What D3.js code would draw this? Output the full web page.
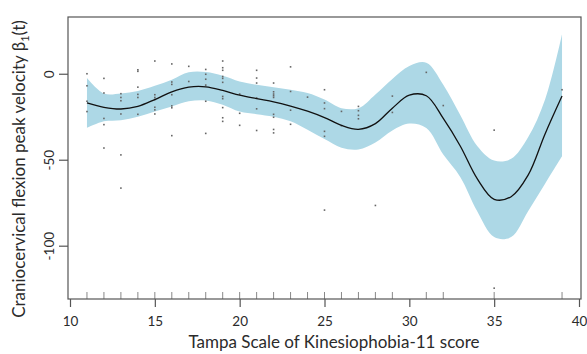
<!DOCTYPE html>
<html>
<head>
<meta charset="utf-8">
<script src="https://cdn.jsdelivr.net/npm/d3@7"></script>
<style>
  body { margin: 0; background: #fff; }
  svg { display: block; }
  text { font-family: Lato, "Open Sans", sans-serif; fill: #2b2b2b; }
</style>
</head>
<body>
<div id="chart"></div>
<script>
// fitted curve, sampled at each TSK-11 score
var fitScore = [11, 12, 13, 14, 15, 16, 17, 18, 19, 20, 21, 22, 23, 24, 25,
                26, 27, 28, 29, 30, 31, 32, 33, 34, 35, 36, 37, 38, 39];
var fitMean  = [-17, -19.5, -20.5, -19, -15, -10.5, -7.8, -7.6, -9.7, -12.5, -14.5, -16.3, -18.8, -21.8, -25.5,
                -30, -32.3, -29, -20, -12.5, -12.8, -26, -42, -61, -73, -71.5, -59, -35, -13];
var fitUpper = [-2.5, -11.5, -11.5, -10, -7, -3.5, 0.8, 1, -1.2, -4.5, -6.4, -7.8, -9.3, -11.2, -15,
                -20, -20, -12, -3, 4.5, 6.4, -6.4, -24, -42, -50.5, -49.5, -37, -15, 23];
var fitLower = [-31.5, -27.7, -27, -25, -22, -19, -16, -15.5, -18, -22, -23.5, -25, -27.7, -32.6, -38,
                -43, -44, -40, -33, -29, -31.6, -47, -60, -80, -95, -95, -80, -64, -48];

// observed values, grouped by score
var obsScore = [11, 12, 13, 14, 15, 16, 17, 18, 19, 20, 21, 22, 23, 24, 25, 26, 27, 28, 29, 31, 32, 35, 39];
var obsValue = [
  [0, -7, -16, -22],
  [-2.7, -11.2, -26, -29.6, -43.2],
  [-11.6, -13.8, -15.7, -23.4, -47.2, -66.5],
  [2.3, 1.4, -7.8, -12, -13.8, -23.6],
  [7.4, -12.2, -13.8, -15, -19.5, -21, -23.4],
  [5.7, -4.8, -6.2, -12.2, -18.7, -19.8, -36],
  [4.3, -4.5],
  [2.5, -0.3, -3.2, -6.6, -16, -34.7],
  [7.4, 3.5, 2, -1.6, -2.7, -5, -13.2, -14.5, -19.7, -25.6, -27.7],
  [-11.8, -23, -30],
  [2, -2.5, -5.4, -14.1, -20.4, -33],
  [-5.4, -10.5, -11.8, -12.8, -13.8, -23.6, -25.3, -32.4, -34.4],
  [4, -10.3, -21.2, -29.4],
  [-13.6],
  [-9.3, -17, -20.3, -33.5, -36.4, -79.3],
  [-21.9, -30.2],
  [-19, -21.5, -24.2, -26.2],
  [-76.6],
  [-13, -22.5],
  [0.8],
  [-18.5],
  [-32.8, -124.7],
  [-9.3]
];

var xTicks = [10, 15, 20, 25, 30, 35, 40];
var yTicks = [0, -50, -100];
var xTitle = "Tampa Scale of Kinesiophobia-11 score";

var width = 587, height = 354;
var box = {left: 68, top: 17, right: 581, bottom: 299};

var svg = d3.select("#chart").append("svg")
  .attr("width", width)
  .attr("height", height);

var x = d3.scaleLinear().domain([10, 40]).range([70, 579]);
var y = d3.scaleLinear().domain([-131, 33]).range([box.bottom, box.top]);

var fit = fitScore.map(function(s, i){
  return {s: s, m: fitMean[i], hi: fitUpper[i], lo: fitLower[i]};
});

var points = [];
obsScore.forEach(function(s, i){
  obsValue[i].forEach(function(v){ points.push({s: s, v: v}); });
});

// confidence band
svg.append("path")
  .datum(fit)
  .attr("fill", "#add8e6")
  .attr("d", d3.area()
    .x(function(d){ return x(d.s); })
    .y0(function(d){ return y(d.lo); })
    .y1(function(d){ return y(d.hi); })
    .curve(d3.curveCatmullRom));

// raw points
svg.append("g").selectAll("rect")
  .data(points)
  .enter()
  .append("rect")
  .attr("x", function(d){ return x(d.s) - 0.8; })
  .attr("y", function(d){ return y(d.v) - 0.8; })
  .attr("width", 1.6)
  .attr("height", 1.6)
  .attr("fill", "#666");

// mean curve
svg.append("path")
  .datum(fit)
  .attr("fill", "none")
  .attr("stroke", "#111")
  .attr("stroke-width", 1.3)
  .attr("d", d3.line()
    .x(function(d){ return x(d.s); })
    .y(function(d){ return y(d.m); })
    .curve(d3.curveCatmullRom));

// rug
svg.append("g").selectAll("line")
  .data(obsScore)
  .enter()
  .append("line")
  .attr("x1", function(d){ return x(d); })
  .attr("x2", function(d){ return x(d); })
  .attr("y1", box.bottom)
  .attr("y2", box.bottom - 7)
  .attr("stroke", "#888")
  .attr("stroke-width", 1);

// frame
svg.append("rect")
  .attr("x", box.left)
  .attr("y", box.top)
  .attr("width", box.right - box.left)
  .attr("height", box.bottom - box.top)
  .attr("fill", "none")
  .attr("stroke", "#555")
  .attr("stroke-width", 1.2);

// axes
var gx = svg.append("g")
  .attr("transform", "translate(0," + box.bottom + ")")
  .call(d3.axisBottom(x).tickValues(xTicks).tickSize(8).tickFormat(function(d){ return String(d); }));
gx.select(".domain").remove();
gx.selectAll("line").attr("stroke", "#555").attr("stroke-width", 1.2);
gx.selectAll("text")
  .attr("y", 26.5).attr("dy", 0)
  .style("font-size", "13.5px")
  .attr("fill", "#2b2b2b");

var gy = svg.append("g")
  .attr("transform", "translate(" + box.left + ",0)")
  .call(d3.axisLeft(y).tickValues(yTicks).tickSize(9).tickFormat(function(d){ return String(d); }));
gy.select(".domain").remove();
gy.selectAll("line").attr("stroke", "#555").attr("stroke-width", 1.2);
gy.selectAll("text")
  .attr("transform", "rotate(-90)")
  .attr("x", 0).attr("y", -14.5).attr("dy", 0)
  .attr("text-anchor", "middle")
  .style("font-size", "13.5px")
  .attr("fill", "#2b2b2b");

// titles
svg.append("text")
  .attr("x", 334)
  .attr("y", 348)
  .attr("text-anchor", "middle")
  .style("font-size", "17px")
  .text(xTitle);

var yt = svg.append("text")
  .attr("transform", "translate(25,169) rotate(-90)")
  .attr("text-anchor", "middle")
  .style("font-size", "17px");
yt.append("tspan").text("Craniocervical flexion peak velocity \u03b2");
yt.append("tspan").attr("dy", 4).style("font-size", "11px").text("1");
yt.append("tspan").attr("dy", -4).text("(t)");
</script>
</body>
</html>
